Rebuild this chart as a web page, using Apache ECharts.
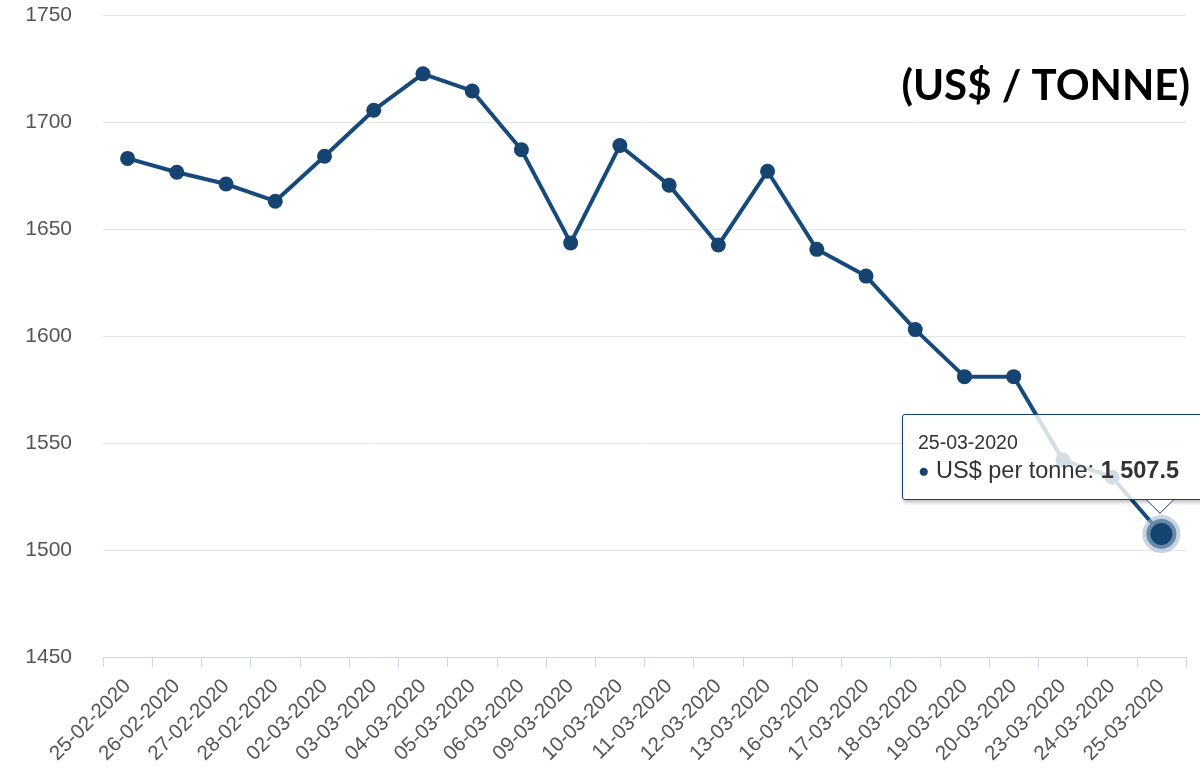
<!DOCTYPE html>
<html>
<head>
    <meta charset="utf-8">
    <title>US$ per tonne</title>
    <script src="https://cdn.jsdelivr.net/npm/echarts@6/dist/echarts.min.js"></script>
    <style>
        html, body { margin: 0; padding: 0; background: #fff; overflow: hidden; }
        #chart1 { width: 1200px; height: 768px; }
    </style>
</head>
<body>
<div id="chart1"></div>
<script type="text/javascript">
    // dates on the x axis
    var dates = ['25-02-2020', '26-02-2020', '27-02-2020', '28-02-2020', '02-03-2020', '03-03-2020',
        '04-03-2020', '05-03-2020', '06-03-2020', '09-03-2020', '10-03-2020', '11-03-2020',
        '12-03-2020', '13-03-2020', '16-03-2020', '17-03-2020', '18-03-2020', '19-03-2020',
        '20-03-2020', '23-03-2020', '24-03-2020', '25-03-2020'];
    // price, US$ per tonne
    var prices = [1683, 1676.5, 1671, 1663, 1684, 1705.5, 1722.5, 1714.5, 1687, 1643.5, 1689, 1670.5,
        1642.5, 1677, 1640.5, 1628, 1603, 1581, 1581, 1542, 1534, 1507.5];
    var yTicks = [1450, 1500, 1550, 1600, 1650, 1700, 1750];

    var lineColor = '#154470';

    // "1507.5" -> "1 507.5"
    function fmt(v) {
        var parts = v.toFixed(1).split('.');
        var intPart = parts[0].replace(/\B(?=(\d{3})+(?!\d))/g, ' ');
        return parts[1] === '0' ? intPart : intPart + '.' + parts[1];
    }

    var myChart1 = echarts.init(document.getElementById('chart1'));

    myChart1.setOption({
        animation: false,
        title: {
            text: '(US$ / TONNE)',
            right: 5,
            top: 60,
            textStyle: {
                fontFamily: 'Lato',
                fontWeight: 'bold',
                fontSize: 42,
                color: '#000'
            }
        },
        grid: {
            left: 103,
            right: 14,
            top: 15,
            bottom: 111
        },
        tooltip: {
            trigger: 'item',
            triggerOn: 'none',
            alwaysShowContent: true,
            transitionDuration: 0,
            backgroundColor: 'rgba(255,255,255,0.82)',
            borderColor: lineColor,
            borderWidth: 1.5,
            padding: [14, 30, 13, 15],
            extraCssText: 'border-radius:3px;box-shadow:1px 2px 4px rgba(0,0,0,0.3);overflow:visible;',
            position: function () {
                return [902, 414];
            },
            formatter: function (p) {
                return '<div style="font-family:Liberation Sans,Arial;color:#333;">' +
                    '<div style="font-size:19.5px;line-height:26px;">' + p.name + '</div>' +
                    '<div style="font-size:23.5px;line-height:31px;white-space:nowrap;">' +
                    '<span style="color:' + lineColor + ';font-size:19px;vertical-align:1px;">\u25CF</span> US$ per tonne: <b>' +
                    fmt(p.value) + '</b></div>' +
                    '<div style="position:absolute;left:247px;bottom:-11px;width:19px;height:19px;' +
                    'background:#fff;border-right:1.5px solid ' + lineColor + ';border-bottom:1.5px solid ' + lineColor + ';' +
                    'transform:rotate(45deg);clip-path:polygon(100% 0,100% 100%,0 100%);"></div>' +
                    '</div>';
            }
        },
        xAxis: {
            type: 'category',
            data: dates,
            boundaryGap: true,
            axisLine: { lineStyle: { color: '#ccd6eb', width: 1 } },
            axisTick: { show: true, length: 10, lineStyle: { color: '#ccd6eb' } },
            axisLabel: {
                rotate: 45,
                interval: 0,
                margin: 26,
                color: '#555',
                fontSize: 20.5,
                fontFamily: 'Liberation Sans'
            },
            splitLine: { show: false }
        },
        yAxis: {
            type: 'value',
            min: yTicks[0],
            max: yTicks[yTicks.length - 1],
            interval: 50,
            axisLine: { show: false },
            axisTick: { show: false },
            axisLabel: {
                margin: 31,
                color: '#555',
                fontSize: 21,
                fontFamily: 'Liberation Sans',
                formatter: function (v) { return String(v); }
            },
            splitLine: { lineStyle: { color: '#e6e6e6', width: 1 } }
        },
        series: [{
            name: 'US$ per tonne',
            type: 'line',
            data: prices,
            symbol: 'circle',
            symbolSize: 15,
            itemStyle: { color: lineColor },
            lineStyle: { color: lineColor, width: 4 },
            emphasis: {
                scale: 2,
                itemStyle: {
                    color: lineColor,
                    borderColor: 'rgba(160,185,205,0.6)',
                    borderWidth: 8
                },
                lineStyle: { width: 4 }
            }
        }]
    });

    myChart1.dispatchAction({ type: 'highlight', seriesIndex: 0, dataIndex: prices.length - 1 });
    myChart1.dispatchAction({ type: 'showTip', seriesIndex: 0, dataIndex: prices.length - 1 });
</script>
</body>
</html>
